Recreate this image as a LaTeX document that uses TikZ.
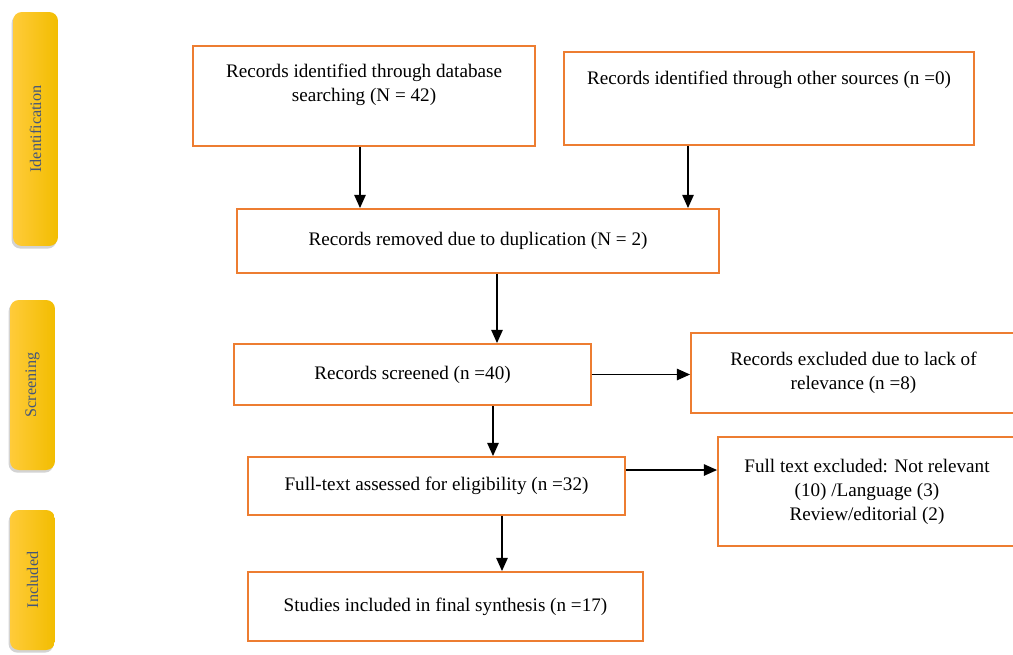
\documentclass[tikz,border=0pt]{standalone}
\usepackage{fontspec}
\setmainfont{Liberation Serif}
\usetikzlibrary{arrows.meta,shadows}
\definecolor{boxorange}{HTML}{ED7D31}
\definecolor{barlight}{HTML}{FFCB3A}
\definecolor{bardark}{HTML}{F2BD00}
\definecolor{bartext}{HTML}{44557A}
\newcommand{\boxfont}{\fontsize{10.9}{13.6}\selectfont}

\begin{document}
\begin{tikzpicture}[x=.02cm,y=-.02cm,
box/.style={draw=boxorange,line width=1.1pt,fill=white,inner sep=0pt,align=center,font=\boxfont},
bar/.style={rounded corners=5pt,left color=barlight,right color=bardark,minimum height=.9cm,inner sep=0pt,drop shadow={shadow xshift=-.8pt,shadow yshift=-1.5pt,opacity=.35},font=\fontsize{9.2}{10}\selectfont\color{bartext},rotate=90},
arr/.style={-{Triangle[length=7.5pt,width=6.5pt]},line width=.8pt}]
\useasboundingbox(0,0)rectangle(1013,654);
% phases
\node[bar,minimum width=4.68cm](idf)at(35.5,129){Identification};
\node[bar,minimum width=3.4cm](scrn)at(32.5,385){Screening};
\node[bar,minimum width=2.8cm](incl)at(32.5,580){Included};
% boxes
\node[box,minimum width=6.84cm,minimum height=2cm](db)at(364,96){};\node[align=center,font=\boxfont](dbt)at(364,85){Records identified through database\\searching (N = 42)};
\node[box,minimum width=8.2cm,minimum height=1.86cm](oth)at(769,98.5){};\node[font=\boxfont](otht)at(769,80){Records identified through other sources (n =0)};
\node[box,minimum width=9.64cm,minimum height=1.28cm](dup)at(478,241){Records removed due to duplication (N = 2)};
\node[box,minimum width=7.14cm,minimum height=1.22cm](scr)at(412.5,374.5){Records screened (n =40)};
\node[box,minimum width=6.5cm,minimum height=1.6cm](ex1)at(853.5,373){Records excluded due to lack of\\relevance (n =8)};
\node[box,minimum width=7.54cm,minimum height=1.16cm](ft)at(436.5,486){Full-text assessed for eligibility (n =32)};
\node[box,minimum width=5.96cm,minimum height=2.18cm](ex2)at(867,491.5){Full text excluded: Not relevant\\(10) /Language (3)\\Review/editorial (2)};
\node[box,minimum width=7.9cm,minimum height=1.38cm](inc)at(445.5,606.5){Studies included in final synthesis (n =17)};
% arrows
\draw[arr](db.south-|360,0)--(dup.north-|360,0);\draw[arr](oth.south-|688,0)--(dup.north-|688,0);
\draw[arr](dup.south-|497,0)--(scr.north-|497,0);
\draw[arr](scr.east)--(ex1.west|-scr.east);
\draw[arr](scr.south-|493,0)--(ft.north-|493,0);
\draw[arr](ft.east|-0,470)--(ex2.west|-0,470);
\draw[arr](ft.south-|502,0)--(inc.north-|502,0);
\end{tikzpicture}
\end{document}
